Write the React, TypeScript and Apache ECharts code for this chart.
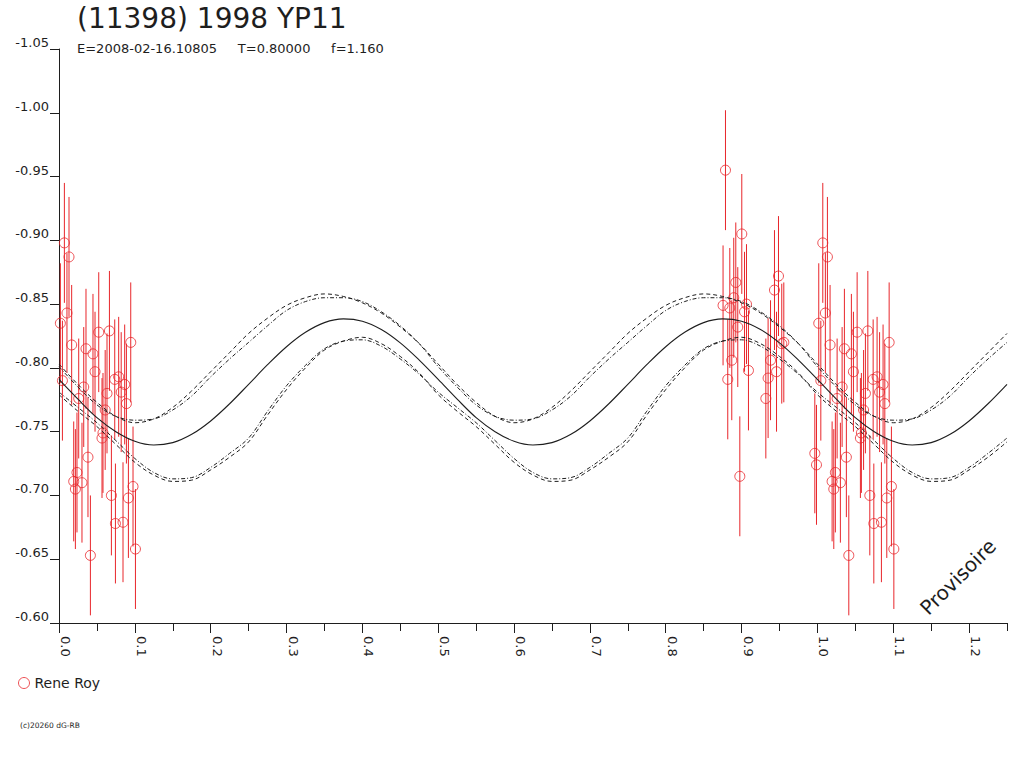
import React, { useEffect, useRef } from "react";
import * as echarts from "echarts";

const FONT = "DejaVu Sans";
const RED = "#e8262b";
const INK = "#1e1e1e";

const TITLE = "(11398) 1998 YP11";
const SUBTITLE = "E=2008-02-16.10805     T=0.80000     f=1.160";
const LEGEND_NAME = "Rene Roy";
const WATERMARK = "Provisoire";
const FOOTER = "(c)20260 dG-RB";

// phase grid of the fitted curves (step 0.025)
const CURVE_PHASE = [
  0, 0.025, 0.05, 0.075, 0.1, 0.125, 0.15, 0.175, 0.2, 0.225,
  0.25, 0.275, 0.3, 0.325, 0.35, 0.375, 0.4, 0.425, 0.45, 0.475,
  0.5, 0.525, 0.55, 0.575, 0.6, 0.625, 0.65, 0.675, 0.7, 0.725,
  0.75, 0.775, 0.8, 0.825, 0.85, 0.875, 0.9, 0.925, 0.95, 0.975,
  1.0, 1.025, 1.05, 1.075, 1.1, 1.125, 1.15, 1.175, 1.2, 1.225, 1.25,
];
const FIT_SOLID = [
  -0.791, -0.7755, -0.761, -0.75, -0.7425, -0.7395, -0.7414, -0.7479, -0.7584, -0.7719,
  -0.7871, -0.8025, -0.8166, -0.8279, -0.8355, -0.8384, -0.8366, -0.8301, -0.8196, -0.8061,
  -0.791, -0.7755, -0.761, -0.75, -0.7425, -0.7395, -0.7414, -0.7479, -0.7584, -0.7719,
  -0.7871, -0.8025, -0.8166, -0.8279, -0.8355, -0.8384, -0.8366, -0.8301, -0.8196, -0.8061,
  -0.791, -0.7755, -0.761, -0.75, -0.7425, -0.7395, -0.7414, -0.7479, -0.7584, -0.7719,
  -0.7871,
];
const FIT_UPPER_DASH = [
  -0.803, -0.787, -0.773, -0.762, -0.757, -0.76, -0.769, -0.782, -0.797, -0.812,
  -0.827, -0.839, -0.849, -0.855, -0.858, -0.856, -0.851, -0.843, -0.832, -0.819,
  -0.803, -0.787, -0.773, -0.762, -0.757, -0.76, -0.769, -0.782, -0.797, -0.812,
  -0.827, -0.839, -0.849, -0.855, -0.858, -0.856, -0.851, -0.843, -0.832, -0.819,
  -0.803, -0.787, -0.773, -0.762, -0.757, -0.76, -0.769, -0.782, -0.797, -0.812,
  -0.827,
];
const FIT_UPPER_DOT = [
  -0.801, -0.785, -0.771, -0.762, -0.759, -0.76, -0.767, -0.778, -0.793, -0.807,
  -0.82, -0.833, -0.845, -0.852, -0.855, -0.855, -0.852, -0.844, -0.833, -0.819,
  -0.801, -0.785, -0.771, -0.762, -0.759, -0.76, -0.767, -0.778, -0.793, -0.807,
  -0.82, -0.833, -0.845, -0.852, -0.855, -0.855, -0.852, -0.844, -0.833, -0.819,
  -0.801, -0.785, -0.771, -0.762, -0.759, -0.76, -0.767, -0.778, -0.793, -0.807,
  -0.82,
];
const FIT_LOWER_DASH = [
  -0.779, -0.766, -0.754, -0.74, -0.726, -0.716, -0.711, -0.712, -0.72, -0.73,
  -0.742, -0.763, -0.783, -0.8, -0.814, -0.821, -0.824, -0.819, -0.809, -0.796,
  -0.779, -0.766, -0.754, -0.74, -0.726, -0.716, -0.711, -0.712, -0.72, -0.73,
  -0.742, -0.763, -0.783, -0.8, -0.814, -0.821, -0.824, -0.819, -0.809, -0.796,
  -0.779, -0.766, -0.754, -0.74, -0.726, -0.716, -0.711, -0.712, -0.72, -0.73,
  -0.742,
];
const FIT_LOWER_DOT = [
  -0.781, -0.769, -0.757, -0.743, -0.729, -0.718, -0.713, -0.714, -0.722, -0.733,
  -0.745, -0.766, -0.786, -0.802, -0.815, -0.821, -0.822, -0.817, -0.807, -0.795,
  -0.781, -0.769, -0.757, -0.743, -0.729, -0.718, -0.713, -0.714, -0.722, -0.733,
  -0.745, -0.766, -0.786, -0.802, -0.815, -0.821, -0.822, -0.817, -0.807, -0.795,
  -0.781, -0.769, -0.757, -0.743, -0.729, -0.718, -0.713, -0.714, -0.722, -0.733,
  -0.745,
];

// observations (phase, reduced magnitude)
const OBS_PHASE = [
  0.0071, 0.0132, 0.0105, 0.0018, 0.0167, 0.0356, 0.0448, 0.0524, 0.0665, 0.0946,
  0.0475, 0.0045, 0.0326, 0.0735, 0.0787, 0.0866, 0.0633, 0.082, 0.026, 0.0889,
  0.0609, 0.058, 0.0567, 0.0382, 0.0237, 0.0194, 0.0303, 0.0216, 0.0976, 0.0691,
  0.0915, 0.0744, 0.0844, 0.0414, 0.1008,
  0.8788, 0.9003, 0.8924, 0.8897, 0.8756, 0.8845, 0.9065, 0.9039, 0.895, 0.8871,
  0.8818, 0.9091, 0.8977, 0.9487, 0.9434, 0.9557, 0.953, 0.9382, 0.935, 0.9461,
  0.932, 0.9966, 0.9988,
];
const OBS_MAG = [
  -0.898, -0.887, -0.843, -0.835, -0.818, -0.815, -0.811, -0.828, -0.829, -0.82,
  -0.797, -0.79, -0.785, -0.791, -0.793, -0.787, -0.78, -0.781, -0.776, -0.772,
  -0.767, -0.749, -0.745, -0.73, -0.718, -0.711, -0.71, -0.705, -0.707, -0.7,
  -0.698, -0.678, -0.679, -0.653, -0.658,
  -0.955, -0.905, -0.867, -0.855, -0.849, -0.847, -0.85, -0.844, -0.832, -0.806,
  -0.791, -0.798, -0.715, -0.872, -0.861, -0.82, -0.819, -0.806, -0.792, -0.797,
  -0.776, -0.733, -0.724,
];
const OBS_ERR = 0.047;

const X_MAX = 1.25;

function buildOption() {
  const pts: number[][] = [];
  const bars: number[][] = [];
  OBS_PHASE.forEach((p, i) => {
    const m = OBS_MAG[i];
    const copies = p + 1 <= X_MAX ? [p, p + 1] : [p];
    copies.forEach((x) => {
      pts.push([x, m]);
      bars.push([x, m - OBS_ERR, m + OBS_ERR]);
    });
  });

  const curve = (vals: number[], type: any, width = 1) => ({
    type: "line",
    xAxisIndex: 0,
    yAxisIndex: 0,
    data: CURVE_PHASE.map((p, i) => [p, vals[i]]),
    showSymbol: false,
    symbol: "none",
    smooth: 0.35,
    silent: true,
    clip: true,
    z: 4,
    lineStyle: { color: INK, width, type },
  });

  return {
    animation: false,
    backgroundColor: "#ffffff",
    textStyle: { fontFamily: FONT },
    title: {
      text: TITLE,
      subtext: SUBTITLE,
      left: 77,
      top: 4,
      padding: 0,
      itemGap: 10,
      textStyle: { fontSize: 28, fontWeight: "normal", color: INK, fontFamily: FONT },
      subtextStyle: { fontSize: 13, color: INK, fontFamily: FONT },
    },
    legend: {
      left: 18,
      top: 676,
      padding: 0,
      itemWidth: 11,
      itemHeight: 11,
      textStyle: { fontSize: 14, color: INK, fontFamily: FONT },
      data: [
        {
          name: LEGEND_NAME,
          icon: "circle",
          itemStyle: { color: "rgba(0,0,0,0)", borderColor: RED, borderWidth: 1 },
        },
      ],
    },
    grid: [
      { left: 59, top: 49, width: 948, height: 574 },
      { left: 59, top: 49, width: 910.08, height: 574 },
    ],
    xAxis: [
      {
        gridIndex: 0,
        type: "value",
        min: 0,
        max: X_MAX,
        interval: 0.05,
        axisLine: { show: true, onZero: false, lineStyle: { color: INK, width: 1 } },
        axisTick: { show: true, length: 8, lineStyle: { color: INK, width: 1 } },
        axisLabel: { show: false },
        splitLine: { show: false },
      },
      {
        gridIndex: 1,
        type: "value",
        min: 0,
        max: 1.2,
        interval: 0.1,
        axisLine: { show: false, onZero: false },
        axisTick: { show: true, length: 10, lineStyle: { color: INK, width: 1 } },
        axisLabel: {
          rotate: -90,
          margin: 13,
          align: "left",
          verticalAlign: "bottom",
          fontSize: 13,
          color: INK,
          fontFamily: FONT,
          formatter: (v: number) => v.toFixed(1),
        },
        splitLine: { show: false },
      },
    ],
    yAxis: [
      {
        gridIndex: 0,
        type: "value",
        inverse: true,
        min: -1.05,
        max: -0.6,
        interval: 0.05,
        axisLine: { show: true, onZero: false, lineStyle: { color: INK, width: 1 } },
        axisTick: { show: true, length: 9, lineStyle: { color: INK, width: 1 } },
        axisLabel: {
          margin: 10,
          fontSize: 13,
          color: INK,
          fontFamily: FONT,
          verticalAlign: "bottom",
          formatter: (v: number) => v.toFixed(2),
        },
        splitLine: { show: false },
      },
      { gridIndex: 1, type: "value", inverse: true, min: -1.05, max: -0.6, show: false },
    ],
    graphic: [
      {
        type: "text",
        x: 958,
        y: 577,
        rotation: Math.PI / 4,
        style: {
          text: WATERMARK,
          fontSize: 20,
          fontFamily: FONT,
          fill: INK,
          align: "center",
          verticalAlign: "middle",
        },
      },
      {
        type: "text",
        left: 20,
        top: 721,
        style: { text: FOOTER, fontSize: 7.5, fontFamily: FONT, fill: INK },
      },
    ],
    series: [
      {
        type: "custom",
        xAxisIndex: 0,
        yAxisIndex: 0,
        silent: true,
        clip: true,
        z: 2,
        data: bars,
        encode: { x: 0, y: [1, 2] },
        renderItem: (params: any, api: any) => {
          const x = api.value(0);
          const a = api.coord([x, api.value(1)]);
          const b = api.coord([x, api.value(2)]);
          return {
            type: "line",
            shape: { x1: a[0], y1: a[1], x2: b[0], y2: b[1] },
            style: { stroke: RED, lineWidth: 1 },
          };
        },
      },
      {
        type: "scatter",
        name: LEGEND_NAME,
        xAxisIndex: 0,
        yAxisIndex: 0,
        data: pts,
        symbol: "circle",
        symbolSize: 10,
        z: 3,
        itemStyle: { color: "rgba(0,0,0,0)", borderColor: RED, borderWidth: 1 },
      },
      curve(FIT_SOLID, "solid", 1.1),
      curve(FIT_UPPER_DASH, [4, 3]),
      curve(FIT_UPPER_DOT, [4, 2, 1, 2]),
      curve(FIT_LOWER_DASH, [4, 3]),
      curve(FIT_LOWER_DOT, [4, 2, 1, 2]),
    ],
  };
}

export default function App() {
  const ref = useRef<HTMLDivElement>(null);
  useEffect(() => {
    if (!ref.current) return;
    const chart = echarts.init(ref.current, null, { renderer: "svg" });
    chart.setOption(buildOption() as any);
    return () => chart.dispose();
  }, []);
  return (
    <div
      ref={ref}
      style={{ position: "fixed", left: 0, top: 0, width: 1024, height: 768, background: "#fff" }}
    />
  );
}
